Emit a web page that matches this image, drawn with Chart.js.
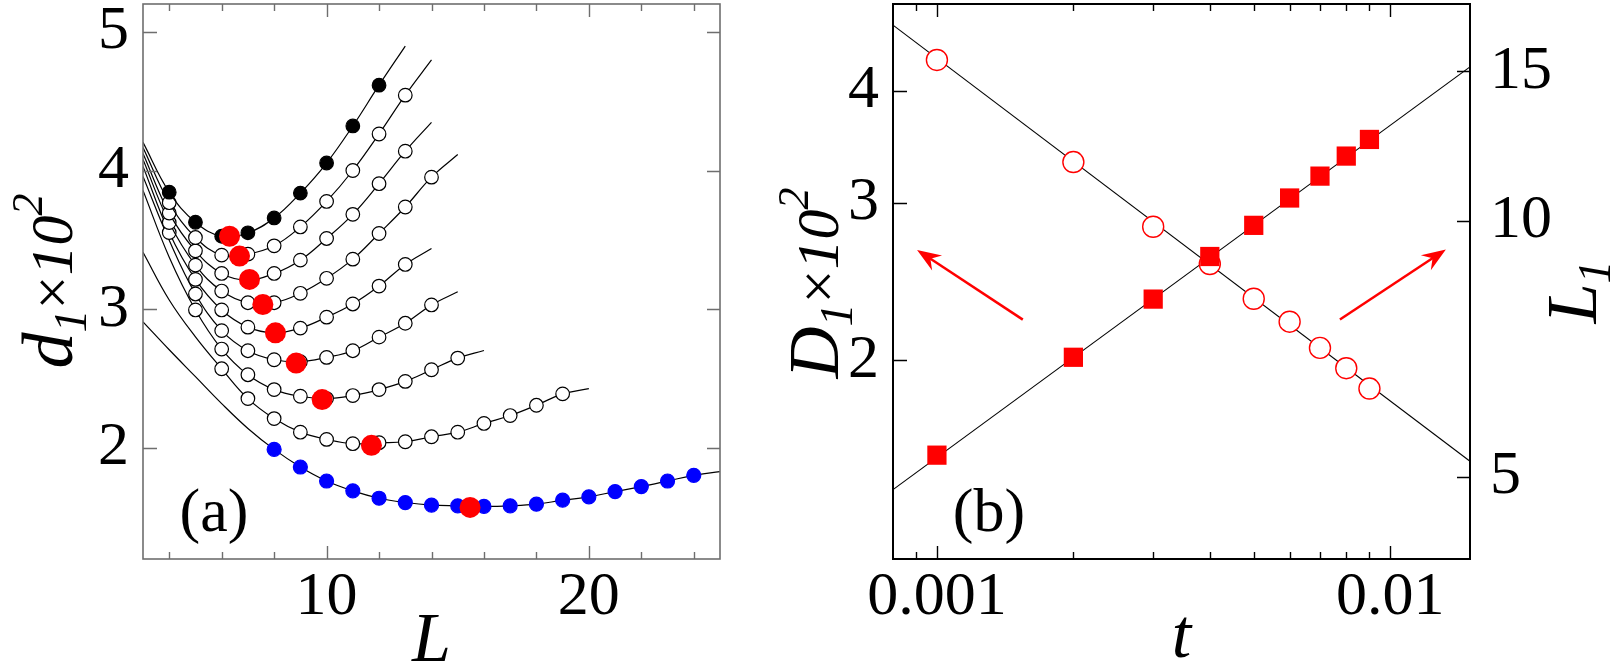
<!DOCTYPE html>
<html>
<head>
<meta charset="utf-8">
<script src="https://cdn.jsdelivr.net/npm/chart.js@4.4.0/dist/chart.umd.min.js"></script>
<style>
  html, body { margin: 0; padding: 0; background: #fff; }
  #wrap { position: relative; width: 1619px; height: 665px; }
  canvas { position: absolute; top: 0; }
  #chartA { left: 0; }
  #chartB { left: 740px; }
</style>
</head>
<body>
<div id="wrap">
  <canvas id="chartA" width="740" height="665"></canvas>
  <canvas id="chartB" width="879" height="665"></canvas>
</div>
<script>
// ---- panel (a): d1 x 10^2 against L, each curve read at L = 3, 4, 5, ...
const curveStartL = 3;
const s1 = [4.203, 3.844, 3.627, 3.526, 3.551, 3.658, 3.837, 4.054, 4.321, 4.615, 4.897];
const s2 = [4.165, 3.768, 3.517, 3.390, 3.397, 3.457, 3.593, 3.777, 4.000, 4.263, 4.543, 4.797];
const s3 = [4.122, 3.693, 3.421, 3.258, 3.210, 3.258, 3.354, 3.510, 3.684, 3.905, 4.139, 4.347];
const s4 = [4.079, 3.625, 3.318, 3.131, 3.047, 3.047, 3.115, 3.223, 3.361, 3.546, 3.737, 3.952, 4.115];
const s5 = [4.029, 3.553, 3.215, 2.995, 2.871, 2.830, 2.864, 2.943, 3.038, 3.167, 3.323, 3.438];
const s6 = [3.957, 3.497, 3.110, 2.846, 2.701, 2.636, 2.622, 2.653, 2.701, 2.799, 2.899, 3.031, 3.126];
const s7 = [3.856, 3.375, 2.995, 2.713, 2.528, 2.421, 2.373, 2.356, 2.378, 2.421, 2.480, 2.564, 2.648, 2.703];
const s8 = [3.411, 3.067, 2.801, 2.571, 2.356, 2.212, 2.114, 2.062, 2.031, 2.038, 2.045, 2.081, 2.114, 2.177, 2.234, 2.308, 2.390, 2.428];
const s9 = [2.909, 2.708, 2.514, 2.320, 2.141, 1.990, 1.863, 1.762, 1.691, 1.638, 1.607, 1.588, 1.583, 1.579, 1.583, 1.595, 1.624, 1.648, 1.686, 1.722, 1.762, 1.803, 1.830];
// first and last L that carry a symbol
const markFrom = [4, 4, 4, 4, 4, 5, 5, 6, 8];
const markTo   = [12, 13, 13, 14, 13, 14, 15, 19, 24];
// red dots: minimum of each curve
const minL = [6.30, 6.68, 7.06, 7.57, 8.05, 8.84, 9.83, 11.71, 15.47];
const minD = [3.526, 3.383, 3.215, 3.034, 2.830, 2.612, 2.349, 2.019, 1.572];
const tickL = [4, 6, 8, 10, 12, 14, 16, 18, 20, 22, 24];
const labelL = [10, 20];
const tickD = [2, 3, 4, 5];

// ---- panel (b): D1 x 10^2 (left) and L1 (right) against t
const tVals = [0.001, 0.002, 0.003, 0.004, 0.005, 0.006, 0.007, 0.008, 0.009];
const D1 = [4.33, 3.33, 2.82, 2.562, 2.343, 2.209, 2.065, 1.960, 1.860];
const L1 = [5.30, 6.91, 8.09, 9.08, 9.88, 10.64, 11.29, 11.92, 12.47];
const fitT = [0.0008, 0.015];
const fitD = [4.735, 1.543];
const fitL = [4.827, 15.18];
const tickT = [0.0009, 0.001, 0.002, 0.003, 0.004, 0.005, 0.006, 0.007, 0.008, 0.009, 0.01];
const labelT = [0.001, 0.01];
const tickD1 = [2, 3, 4];
const tickL1 = [5, 10, 15];
// arrows (tail -> head), in t and D1 units
const arrowTailT = [0.001547, 0.007747];
const arrowTailD = [2.221, 2.221];
const arrowHeadT = [0.000904, 0.01327];
const arrowHeadD = [2.657, 2.66];

const SERIF = "'Liberation Serif', 'Times New Roman', serif";
Chart.defaults.font.family = SERIF;
Chart.defaults.color = '#000';

function hasLabel(v, list) {
  return list.some(l => Math.abs(l - v) / l < 1e-6);
}

// keep the plot frame where it is: no room reserved for overhanging labels
function noPad(s) {
  s.paddingTop = 0; s.paddingBottom = 0; s.paddingLeft = 0; s.paddingRight = 0;
}

// frame + inward tick marks
const frameTicks = {
  id: 'frameTicks',
  afterDatasetsDraw(chart, args, o) {
    const { ctx, chartArea: a } = chart;
    ctx.save();
    ctx.strokeStyle = o.color;
    ctx.lineWidth = o.width;
    ctx.strokeRect(a.left, a.top, a.right - a.left, a.bottom - a.top);
    ctx.lineWidth = o.tickWidth;
    ctx.beginPath();
    const xs = chart.scales.x;
    xs.ticks.forEach(t => {
      const px = Math.round(xs.getPixelForValue(t.value)) + 0.5;
      const len = t.label !== '' ? 13 : 7;
      ctx.moveTo(px, a.bottom); ctx.lineTo(px, a.bottom - len);
      ctx.moveTo(px, a.top); ctx.lineTo(px, a.top + len);
    });
    const ys = chart.scales.y;
    ys.ticks.forEach(t => {
      const py = Math.round(ys.getPixelForValue(t.value)) + 0.5;
      ctx.moveTo(a.left, py); ctx.lineTo(a.left + 14, py);
      if (o.mirrorY) { ctx.moveTo(a.right, py); ctx.lineTo(a.right - 13, py); }
    });
    if (chart.scales.y2) {
      const y2 = chart.scales.y2;
      y2.ticks.forEach(t => {
        const py = Math.round(y2.getPixelForValue(t.value)) + 0.5;
        ctx.moveTo(a.right, py); ctx.lineTo(a.right - 13, py);
      });
    }
    ctx.stroke();
    ctx.restore();
  }
};

// text with sub/superscripts, optionally rotated to read upwards
function richText(ctx, parts, x, y, rotate) {
  ctx.save();
  ctx.translate(x, y);
  if (rotate) ctx.rotate(-Math.PI / 2);
  ctx.fillStyle = '#000';
  ctx.textBaseline = 'alphabetic';
  let w = 0;
  parts.forEach(p => {
    ctx.font = (p.it ? 'italic ' : '') + p.size + 'px ' + SERIF;
    p.w = ctx.measureText(p.t).width;
    w += p.w;
  });
  let cx = -w / 2;
  parts.forEach(p => {
    ctx.font = (p.it ? 'italic ' : '') + p.size + 'px ' + SERIF;
    ctx.fillText(p.t, cx, p.dy || 0);
    cx += p.w;
  });
  ctx.restore();
}

const titles = {
  id: 'titles',
  afterDraw(chart, args, o) {
    const ctx = chart.ctx;
    o.items.forEach(it => richText(ctx, it.parts, it.x, it.y, it.rotate));
  }
};

const arrows = {
  id: 'arrows',
  afterDatasetsDraw(chart) {
    const { ctx } = chart;
    const xs = chart.scales.x, ys = chart.scales.y;
    ctx.save();
    ctx.strokeStyle = '#ff0000';
    ctx.fillStyle = '#ff0000';
    ctx.lineWidth = 2.5;
    arrowTailT.forEach((tt, i) => {
      const x0 = xs.getPixelForValue(tt), y0 = ys.getPixelForValue(arrowTailD[i]);
      const x1 = xs.getPixelForValue(arrowHeadT[i]), y1 = ys.getPixelForValue(arrowHeadD[i]);
      const ang = Math.atan2(y1 - y0, x1 - x0);
      const hl = 24, hw = 9;
      const bx = x1 - hl * Math.cos(ang), by = y1 - hl * Math.sin(ang);
      ctx.beginPath();
      ctx.moveTo(x0, y0);
      ctx.lineTo(x1 - 12 * Math.cos(ang), y1 - 12 * Math.sin(ang));
      ctx.stroke();
      ctx.beginPath();
      ctx.moveTo(x1, y1);
      ctx.lineTo(bx + hw * Math.sin(ang), by - hw * Math.cos(ang));
      ctx.lineTo(x1 - 16 * Math.cos(ang), y1 - 16 * Math.sin(ang));
      ctx.lineTo(bx - hw * Math.sin(ang), by + hw * Math.cos(ang));
      ctx.closePath();
      ctx.fill();
    });
    ctx.restore();
  }
};

const tickFont = { family: SERIF, size: 62, lineHeight: 1 };

// ---------- chart (a) ----------
const curves = [s1, s2, s3, s4, s5, s6, s7, s8, s9];
const curveSets = curves.map((vals, k) => {
  const fill = k === 0 ? '#000' : (k === 8 ? '#0000ff' : '#fff');
  const edge = k === 8 ? '#0000ff' : '#000';
  return {
    data: vals.map((v, i) => ({ x: curveStartL + i, y: v })),
    borderColor: '#000',
    borderWidth: 1.2,
    tension: 0.4,
    pointRadius: c => {
      const L = curveStartL + c.dataIndex;
      return L >= markFrom[k] && L <= markTo[k] ? (k === 8 ? 7 : 6.8) : 0;
    },
    pointBackgroundColor: fill,
    pointBorderColor: edge,
    pointBorderWidth: 1.2
  };
});

new Chart(document.getElementById('chartA'), {
  type: 'line',
  data: {
    datasets: [{
      data: minL.map((x, i) => ({ x: x, y: minD[i] })),
      showLine: false,
      pointRadius: 10.5,
      pointBackgroundColor: '#ff0000',
      pointBorderColor: '#ff0000',
      pointBorderWidth: 0
    }].concat(curveSets)
  },
  options: {
    responsive: false,
    devicePixelRatio: 1,
    animation: false,
    events: [],
    layout: { autoPadding: false, padding: { top: 4, right: 20, left: 0, bottom: 0 } },
    plugins: {
      legend: { display: false },
      tooltip: { enabled: false },
      frameTicks: { color: '#6e6e6e', width: 1.6, tickWidth: 1.4, mirrorY: true },
      titles: {
        items: [
          { rotate: true, x: 72, y: 281, parts: [
            { t: 'd', it: true, size: 72 },
            { t: '1', it: true, size: 46, dy: 14 },
            { t: '\u00d7', size: 60 },
            { t: '10', it: true, size: 60 },
            { t: '2', it: true, size: 44, dy: -30 }
          ] },
          { x: 431.5, y: 661, parts: [{ t: 'L', it: true, size: 70 }] },
          { x: 214, y: 531, parts: [{ t: '(a)', size: 62 }] }
        ]
      }
    },
    scales: {
      x: {
        type: 'linear', min: 3, max: 25,
        afterBuildTicks: s => { s.ticks = tickL.map(v => ({ value: v })); },
        afterFit: s => { s.height = 106; noPad(s); },
        grid: { display: false }, border: { display: false },
        ticks: {
          font: tickFont, padding: 0, autoSkip: false, maxRotation: 0,
          callback: v => hasLabel(v, labelL) ? String(v) : ''
        }
      },
      y: {
        type: 'linear', min: 1.2, max: 5.2,
        afterBuildTicks: s => { s.ticks = tickD.map(v => ({ value: v })); },
        afterFit: s => { s.width = 143; noPad(s); },
        grid: { display: false }, border: { display: false },
        ticks: { font: tickFont, padding: 6, callback: v => String(v) }
      }
    }
  },
  plugins: [frameTicks, titles]
});

// ---------- chart (b) ----------
new Chart(document.getElementById('chartB'), {
  type: 'line',
  data: {
    datasets: [
      {
        data: tVals.map((t, i) => ({ x: t, y: L1[i] })), yAxisID: 'y2',
        showLine: false, pointStyle: 'rect', pointRadius: 13.6,
        pointBackgroundColor: '#ff0000', pointBorderWidth: 0
      },
      {
        data: tVals.map((t, i) => ({ x: t, y: D1[i] })), yAxisID: 'y',
        showLine: false, pointRadius: 10.5,
        pointBackgroundColor: '#fff', pointBorderColor: '#ff0000', pointBorderWidth: 1.4
      },
      {
        data: fitT.map((t, i) => ({ x: t, y: fitL[i] })), yAxisID: 'y2',
        borderColor: '#000', borderWidth: 1.1, pointRadius: 0
      },
      {
        data: fitT.map((t, i) => ({ x: t, y: fitD[i] })), yAxisID: 'y',
        borderColor: '#000', borderWidth: 1.1, pointRadius: 0
      }
    ]
  },
  options: {
    responsive: false,
    devicePixelRatio: 1,
    animation: false,
    events: [],
    layout: { autoPadding: false, padding: { top: 4, right: 0, left: 0, bottom: 0 } },
    plugins: {
      legend: { display: false },
      tooltip: { enabled: false },
      frameTicks: { color: '#000', width: 2, tickWidth: 1.4, mirrorY: false },
      titles: {
        items: [
          { rotate: true, x: 98, y: 283, parts: [
            { t: 'D', it: true, size: 72 },
            { t: '1', it: true, size: 46, dy: 14 },
            { t: '\u00d7', size: 60 },
            { t: '10', it: true, size: 60 },
            { t: '2', it: true, size: 44, dy: -30 }
          ] },
          { rotate: true, x: 856, y: 292, parts: [
            { t: 'L', it: true, size: 72 },
            { t: '1', it: true, size: 46, dy: 14 }
          ] },
          { x: 441.5, y: 657, parts: [{ t: 't', it: true, size: 70 }] },
          { x: 249, y: 531, parts: [{ t: '(b)', size: 62 }] }
        ]
      }
    },
    scales: {
      x: {
        type: 'logarithmic', min: 0.0008, max: 0.015,
        afterBuildTicks: s => { s.ticks = tickT.map(v => ({ value: v })); },
        afterFit: s => { s.height = 106; noPad(s); },
        grid: { display: false }, border: { display: false },
        ticks: {
          font: tickFont, padding: 0, autoSkip: false, maxRotation: 0,
          callback: v => hasLabel(v, labelT) ? String(v) : ''
        }
      },
      y: {
        type: 'logarithmic', position: 'left', min: 1.2, max: 5,
        afterBuildTicks: s => { s.ticks = tickD1.map(v => ({ value: v })); },
        afterFit: s => { s.width = 153; noPad(s); },
        grid: { display: false }, border: { display: false },
        ticks: { font: tickFont, padding: 6, callback: v => String(v) }
      },
      y2: {
        type: 'logarithmic', position: 'right', min: 4, max: 18,
        afterBuildTicks: s => { s.ticks = tickL1.map(v => ({ value: v })); },
        afterFit: s => { s.width = 149; noPad(s); },
        grid: { display: false }, border: { display: false },
        ticks: { font: tickFont, padding: 12, callback: v => String(v) }
      }
    }
  },
  plugins: [frameTicks, arrows, titles]
});
</script>
</body>
</html>
